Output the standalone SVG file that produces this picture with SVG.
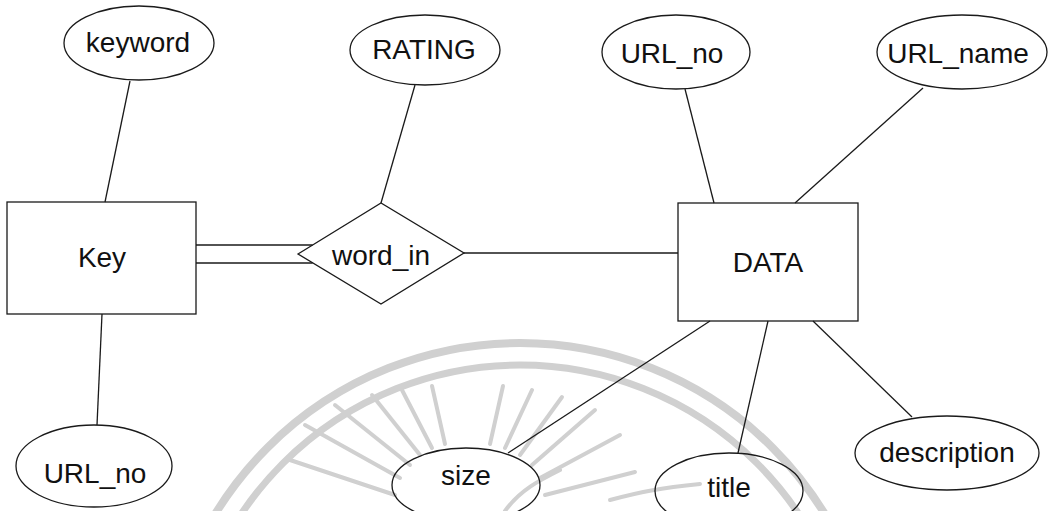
<svg xmlns="http://www.w3.org/2000/svg" width="1051" height="511" viewBox="0 0 1051 511">
  <style>
    .shape { fill: none; stroke: #1a1a1a; stroke-width: 1.3; }
    .link { stroke: #1a1a1a; stroke-width: 1.3; fill: none; }
    .label { font-family: "Liberation Sans", Arial, sans-serif; font-size: 28px; fill: #111111; text-anchor: middle; }
    .mark { fill: none; stroke: #d0d0d0; stroke-linecap: round; }
  </style>

  <rect x="0" y="0" width="1051" height="511" fill="#ffffff"/>

  <!-- faint seal in the background -->
  <g id="seal">
    <circle class="mark" cx="520" cy="700" r="357" stroke-width="8"/>
    <circle class="mark" cx="520" cy="700" r="335" stroke-width="7"/>
    <g stroke-width="4" class="mark" stroke="#d8d8d8">
      <line x1="395" y1="495" x2="290" y2="460"/>
      <line x1="400" y1="478" x2="305" y2="425"/>
      <line x1="410" y1="465" x2="335" y2="405"/>
      <line x1="420" y1="455" x2="372" y2="395"/>
      <line x1="432" y1="448" x2="402" y2="390"/>
      <line x1="445" y1="444" x2="432" y2="386"/>
      <line x1="490" y1="444" x2="503" y2="386"/>
      <line x1="505" y1="448" x2="532" y2="390"/>
      <line x1="520" y1="455" x2="562" y2="397"/>
      <line x1="532" y1="465" x2="595" y2="410"/>
      <line x1="540" y1="478" x2="620" y2="435"/>
      <line x1="545" y1="495" x2="635" y2="472"/>
      <path d="M505,511 C520,490 540,480 560,470"/>
      <path d="M610,500 C640,492 660,488 700,484"/>
    </g>
  </g>

  <!-- connectors -->
  <g id="connectors">
    <line class="link" x1="130" y1="81" x2="105" y2="202"/>
    <line class="link" x1="102" y1="314" x2="97" y2="425"/>
    <line class="link" x1="415" y1="85" x2="381" y2="203"/>
    <line class="link" x1="196" y1="245" x2="312.6" y2="245"/>
    <line class="link" x1="196" y1="263" x2="312.6" y2="263"/>
    <line class="link" x1="464" y1="253" x2="678" y2="253"/>
    <line class="link" x1="685" y1="89" x2="714" y2="203"/>
    <line class="link" x1="923" y1="88" x2="795" y2="203"/>
    <line class="link" x1="710" y1="321" x2="508" y2="453"/>
    <line class="link" x1="768" y1="321" x2="738" y2="453"/>
    <line class="link" x1="813" y1="321" x2="912" y2="417"/>
  </g>

  <!-- entities -->
  <g id="entity-key">
    <rect class="shape" x="7" y="202" width="189" height="112"/>
    <text class="label" x="102" y="267">Key</text>
  </g>
  <g id="entity-data">
    <rect class="shape" x="678" y="203" width="180" height="118"/>
    <text class="label" x="768" y="272">DATA</text>
  </g>

  <!-- relationship -->
  <g id="rel-word-in">
    <polygon class="shape" points="298,254 381,203 464,253 381,304"/>
    <text class="label" x="381" y="265">word_in</text>
  </g>

  <!-- attributes -->
  <g id="attr-keyword">
    <ellipse class="shape" cx="139" cy="43" rx="75" ry="37"/>
    <text class="label" x="138" y="52">keyword</text>
  </g>
  <g id="attr-key-url-no">
    <ellipse class="shape" cx="94" cy="466" rx="78" ry="41"/>
    <text class="label" x="95" y="483">URL_no</text>
  </g>
  <g id="attr-rating">
    <ellipse class="shape" cx="425" cy="50" rx="75" ry="35"/>
    <text class="label" x="424" y="59">RATING</text>
  </g>
  <g id="attr-data-url-no">
    <ellipse class="shape" cx="676" cy="52" rx="74" ry="37"/>
    <text class="label" x="672" y="63">URL_no</text>
  </g>
  <g id="attr-url-name">
    <ellipse class="shape" cx="962" cy="52" rx="85" ry="37"/>
    <text class="label" x="958" y="63">URL_name</text>
  </g>
  <g id="attr-size">
    <ellipse class="shape" cx="466" cy="485" rx="74" ry="37"/>
    <text class="label" x="466" y="485">size</text>
  </g>
  <g id="attr-title">
    <ellipse class="shape" cx="729" cy="491" rx="74" ry="38"/>
    <text class="label" x="729" y="497">title</text>
  </g>
  <g id="attr-description">
    <ellipse class="shape" cx="947" cy="453" rx="92" ry="37"/>
    <text class="label" x="947" y="462">description</text>
  </g>
</svg>
